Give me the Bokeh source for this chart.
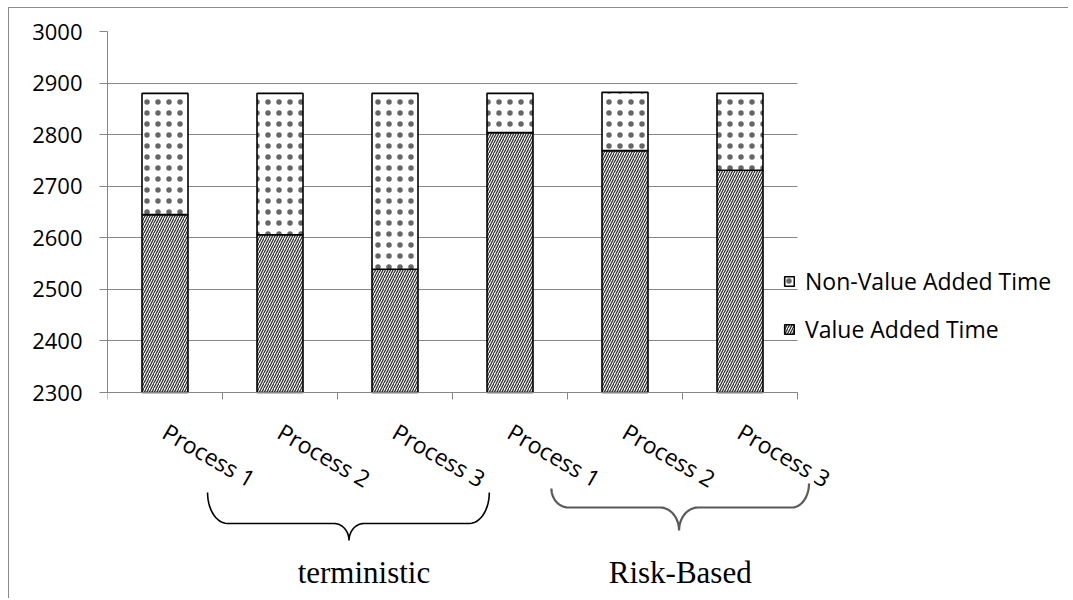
import math
import numpy as np
from bokeh.plotting import figure
from bokeh.models import ColumnDataSource, Range1d, FixedTicker, Legend, LegendItem
from bokeh.core.properties import value
from bokeh.embed import file_html
from bokeh.resources import INLINE

# ---------------- data ----------------
categories = ["Process 1", "Process 2", "Process 3", "Process 1", "Process 2", "Process 3"]
groups = ["terministic", "Risk-Based"]
group_members = [[0, 1, 2], [3, 4, 5]]
value_added = [2645, 2606, 2539, 2804, 2769, 2731]
non_value_added = [235, 274, 341, 76, 113, 149]
y_ticks = [2300, 2400, 2500, 2600, 2700, 2800, 2900, 3000]
series_names = ["Non-Value Added Time", "Value Added Time"]

GRAY = "#868686"
FONT = "Open Sans"

# ---------------- layout constants (pixels) ----------------
W, H = 1060, 591          # canvas
ML, MT = 98, 23           # plot area left / top
PW, PH = 690, 361         # width / height of the bar area (0..6, 2300..3000)
N = len(categories)
PX = PW / N                               # px per category
UPP = (y_ticks[-1] - y_ticks[0]) / PH     # value units per px
BELOW_AXIS = H - MT - PH                  # px of frame below the category axis
# the frame extends to the canvas' right and bottom edges; the x axis sits at a fixed location
X_END = (W - ML) / PX
Y_START = y_ticks[-1] - (H - MT) * UPP


def below(px):
    """data y of a point `px` pixels below the category axis"""
    return y_ticks[0] - px * UPP


xs = [i + 0.5 for i in range(N)]
totals = [a + b for a, b in zip(value_added, non_value_added)]
src = ColumnDataSource(dict(x=xs, va=value_added, total=totals))

p = figure(width=W, height=H,
           x_range=Range1d(0, X_END), y_range=Range1d(Y_START, y_ticks[-1]),
           output_backend="svg", toolbar_location=None,
           min_border_left=ML, min_border_right=0, min_border_top=MT, min_border_bottom=0)
p.outline_line_color = None
p.styles = {"margin-left": "8px", "margin-top": "7px",
            "border-left": "1px solid #8a8a8a", "border-top": "1px solid #8a8a8a"}

r_va = p.vbar(x="x", bottom=y_ticks[0], top="va", width=0.4, source=src,
              fill_color="white", line_color="black", line_width=1.6,
              hatch_pattern="/", hatch_scale=5, hatch_weight=1.3, hatch_color="#333333")
r_nva = p.vbar(x="x", bottom="va", top="total", width=0.4, source=src,
               fill_color="white", line_color="black", line_width=1.6,
               hatch_pattern=".", hatch_scale=11, hatch_weight=0.7, hatch_color="#666666")

legend = Legend(items=[LegendItem(label=series_names[0], renderers=[r_nva]),
                       LegendItem(label=series_names[1], renderers=[r_va])],
                location=(676, BELOW_AXIS + 47),
                padding=0, margin=0, spacing=16,
                glyph_width=12, glyph_height=12, label_height=24, label_standoff=10,
                label_text_font=FONT, label_text_font_size="23px", label_text_color="black",
                border_line_color=None, background_fill_alpha=0)
p.add_layout(legend)

# x axis (fixed at the bottom of the value range)
p.xaxis.fixed_location = y_ticks[0]
p.xaxis.bounds = (0, N)
p.xaxis.ticker = FixedTicker(ticks=xs, minor_ticks=list(range(N + 1)))
p.xaxis.major_label_overrides = {x: c for x, c in zip(xs, categories)}
p.xaxis.major_label_orientation = -math.pi / 6
p.xaxis.major_tick_line_color = None
p.xaxis.minor_tick_line_color = GRAY
p.xaxis.minor_tick_out = 7
p.xaxis.minor_tick_in = 0
p.xaxis.axis_line_color = GRAY
p.xaxis.major_label_text_font = FONT
p.xaxis.major_label_text_font_size = "23px"
p.xaxis.major_label_text_color = "black"
p.xaxis.major_label_standoff = 30

# y axis (in the left panel, at the frame's left edge)
p.yaxis.bounds = (y_ticks[0], y_ticks[-1])
p.yaxis.ticker = FixedTicker(ticks=y_ticks)
p.yaxis.minor_tick_line_color = None
p.yaxis.major_tick_out = 8
p.yaxis.major_tick_in = 0
p.yaxis.major_tick_line_color = GRAY
p.yaxis.axis_line_color = GRAY
p.yaxis.major_label_text_font = FONT
p.yaxis.major_label_text_font_size = "22px"
p.yaxis.major_label_text_color = "black"
p.yaxis.major_label_standoff = 17

p.xgrid.visible = False
p.ygrid.grid_line_color = GRAY
p.ygrid.grid_line_width = 1
p.ygrid.cross_bounds = (0, N)


# ---------------- braces + group labels ----------------
def brace(x0, x1, xt, y_top_l, y_top_r, y_mid, y_tip, rx, cusp):
    """curly brace; y values are pixels below the axis"""
    t = np.linspace(0, math.pi / 2, 14)
    bx, by = [], []
    bx += list(x0 + rx - rx * np.cos(t)); by += list(y_top_l + (y_mid - y_top_l) * np.sin(t))
    bx += list(xt - cusp + cusp * np.sin(t)); by += list(y_mid + (y_tip - y_mid) * (1 - np.cos(t)))
    bx += list(xt + cusp - cusp * np.cos(t)); by += list(y_tip - (y_tip - y_mid) * np.sin(t))
    bx += list(x1 - rx + rx * np.sin(t)); by += list(y_mid - (y_mid - y_top_r) * (1 - np.cos(t)))
    return bx, [below(v) for v in by]


brace_specs = [
    dict(x0=group_members[0][0] + 0.87, x1=group_members[0][-1] + 1.32, xt=group_members[0][1] + 1.10,
         y_top_l=100, y_top_r=100, y_mid=131, y_tip=148, rx=20 / PX, cusp=15 / PX,
         color="black", width=1.6, lx=group_members[0][1] + 1.23),
    dict(x0=group_members[1][0] + 0.86, x1=group_members[1][-1] + 1.10, xt=group_members[1][1] + 0.97,
         y_top_l=96, y_top_r=91, y_mid=115, y_tip=138, rx=17 / PX, cusp=19 / PX,
         color="#5a5a5a", width=2.2, lx=group_members[1][1] + 0.98),
]
for g, spec in zip(groups, brace_specs):
    bx, by = brace(spec["x0"], spec["x1"], spec["xt"], spec["y_top_l"], spec["y_top_r"],
                   spec["y_mid"], spec["y_tip"], spec["rx"], spec["cusp"])
    p.line(bx, by, line_color=spec["color"], line_width=spec["width"])
    p.text(x=[spec["lx"]], y=[below(180)], text=[g], text_align="center", text_baseline="alphabetic",
           text_font=value("Liberation Serif"), text_font_size="31px", text_color="black")

open("out.html", "w").write(file_html(p, INLINE))
